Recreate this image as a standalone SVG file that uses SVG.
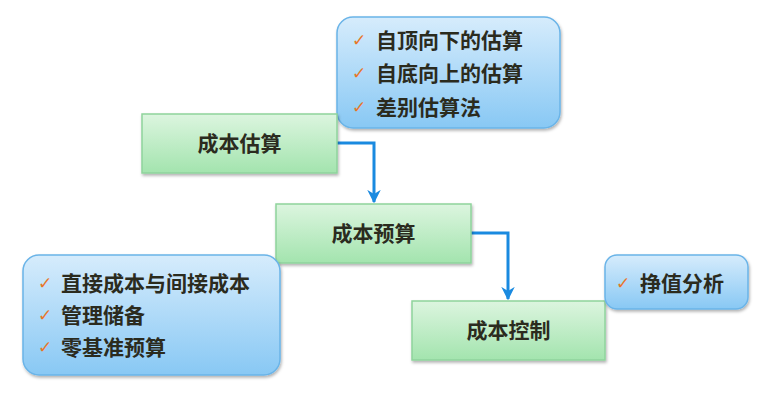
<svg xmlns="http://www.w3.org/2000/svg" width="775" height="412" viewBox="0 0 775 412">
<defs>
<linearGradient id="gG" x1="0" y1="0" x2="0" y2="1">
<stop offset="0" stop-color="#dcf5df"/>
<stop offset="1" stop-color="#a3e4ae"/>
</linearGradient>
<linearGradient id="gB" x1="0" y1="0" x2="0" y2="1">
<stop offset="0" stop-color="#d6ecfc"/>
<stop offset="1" stop-color="#88c8f4"/>
</linearGradient>
<filter id="sh" x="-10%" y="-10%" width="120%" height="130%">
<feDropShadow dx="1" dy="2" stdDeviation="1.5" flood-color="#000" flood-opacity="0.3"/>
</filter>
<marker id="arr" viewBox="0 0 10 10" refX="9" refY="5" markerWidth="4.5" markerHeight="4.5" orient="auto" markerUnits="strokeWidth">
<path d="M0,0 L10,5 L0,10 L3,5 Z" fill="#1a8ae0"/>
</marker>
</defs>
<style>
.proc{fill:url(#gG);stroke:#8fd39c;stroke-width:1.5;filter:url(#sh)}
.note{fill:url(#gB);stroke:#6ab4e8;stroke-width:1.5;filter:url(#sh)}
.t{font-family:"Noto Sans CJK SC","Noto Sans",sans-serif;font-weight:bold;font-size:21px;fill:#2b2b1e}
.ck{font-family:"DejaVu Sans",sans-serif;font-size:17px;font-weight:bold;fill:#e8772a}
.c{fill:none;stroke:#1a8ae0;stroke-width:3;marker-end:url(#arr)}
</style>
<rect width="775" height="412" fill="#ffffff"/>
<g id="connectors">
<path class="c" d="M337,143 H374 V202"/>
<path class="c" d="M471,233 H508 V299"/>
</g>
<g id="note-estimate">
<rect class="note" x="337" y="17" width="223" height="111" rx="16"/>
<text class="ck" x="352" y="46">✓</text><text class="t" x="376" y="48">自顶向下的估算</text>
<text class="ck" x="352" y="79">✓</text><text class="t" x="376" y="81">自底向上的估算</text>
<text class="ck" x="352" y="113">✓</text><text class="t" x="376" y="115">差别估算法</text>
</g>
<g id="estimate">
<rect class="proc" x="142" y="114" width="195" height="59"/>
<text class="t" x="239.5" y="151" text-anchor="middle">成本估算</text>
</g>
<g id="budget">
<rect class="proc" x="276" y="204" width="195" height="59"/>
<text class="t" x="373.5" y="241" text-anchor="middle">成本预算</text>
</g>
<g id="note-budget">
<rect class="note" x="23" y="255" width="257" height="120" rx="16"/>
<text class="ck" x="38" y="289">✓</text><text class="t" x="61" y="291">直接成本与间接成本</text>
<text class="ck" x="38" y="321">✓</text><text class="t" x="61" y="323">管理储备</text>
<text class="ck" x="38" y="353">✓</text><text class="t" x="61" y="355">零基准预算</text>
</g>
<g id="control">
<rect class="proc" x="412" y="301" width="193" height="59"/>
<text class="t" x="508.5" y="338" text-anchor="middle">成本控制</text>
</g>
<g id="note-control">
<rect class="note" x="605" y="255" width="143" height="54" rx="12"/>
<text class="ck" x="616" y="289">✓</text><text class="t" x="640" y="291">挣值分析</text>
</g>
</svg>
